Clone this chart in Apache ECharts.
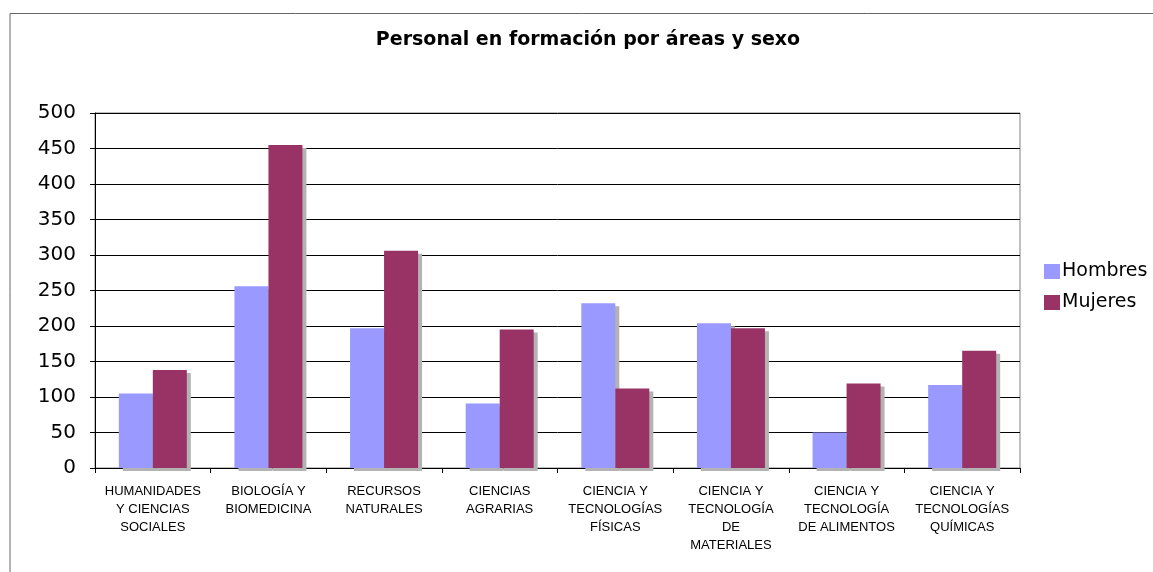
<!DOCTYPE html>
<html>
<head>
<meta charset="utf-8">
<script src="https://cdn.jsdelivr.net/npm/echarts@6/dist/echarts.min.js"></script>
<style>
  html, body { margin: 0; padding: 0; background: #fff; }
  #chart { width: 1153px; height: 572px; }
</style>
</head>
<body>
<div id="chart"></div>
<script>
var areas = [
  "HUMANIDADES\nY CIENCIAS\nSOCIALES",
  "BIOLOGÍA Y\nBIOMEDICINA",
  "RECURSOS\nNATURALES",
  "CIENCIAS\nAGRARIAS",
  "CIENCIA Y\nTECNOLOGÍAS\nFÍSICAS",
  "CIENCIA Y\nTECNOLOGÍA\nDE\nMATERIALES",
  "CIENCIA Y\nTECNOLOGÍA\nDE ALIMENTOS",
  "CIENCIA Y\nTECNOLOGÍAS\nQUÍMICAS"
];
var hombres = [105, 256, 197, 91, 232, 204, 50, 117];
var mujeres = [138, 455, 306, 195, 112, 197, 119, 165];

var myChart = echarts.init(document.getElementById("chart"));

var barShadow = {
  shadowColor: "#b3b3b3",
  shadowBlur: 0,
  shadowOffsetX: 4,
  shadowOffsetY: 3
};

var option = {
  animation: false,
  backgroundColor: "#fff",
  textStyle: { fontFamily: "Liberation Sans, Arial, sans-serif" },
  title: {
    text: "Personal en formación por áreas y sexo",
    left: 583,
    top: 26,
    textAlign: "center",
    textStyle: {
      fontSize: 19,
      fontWeight: "bold",
      color: "#000",
      fontFamily: "DejaVu Sans, sans-serif"
    }
  },
  graphic: [
    {
      type: "polyline",
      shape: { points: [[10, 572], [10, 13.5], [1153, 13.5]] },
      style: { stroke: "#666", lineWidth: 1, fill: null }
    }
  ],
  legend: {
    orient: "vertical",
    left: 1039,
    top: 257,
    itemWidth: 16,
    itemHeight: 15,
    itemGap: 12,
    icon: "rect",
    textStyle: { fontSize: 19, color: "#000", fontFamily: "DejaVu Sans, sans-serif", padding: [0, 0, 0, -3] },
    data: ["Hombres", "Mujeres"]
  },
  grid: {
    left: 95,
    right: 133,
    top: 113,
    bottom: 104,
    show: true,
    borderColor: "#808080",
    borderWidth: 1
  },
  xAxis: {
    type: "category",
    data: areas,
    axisLine: { lineStyle: { color: "#000" } },
    axisTick: { show: true, length: 5, alignWithLabel: false, lineStyle: { color: "#000" } },
    axisLabel: {
      interval: 0,
      fontSize: 13,
      lineHeight: 18,
      color: "#000",
      margin: 14
    }
  },
  yAxis: {
    type: "value",
    min: 0,
    max: 500,
    interval: 50,
    axisLine: { show: true, lineStyle: { color: "#000" } },
    axisTick: { show: true, length: 5, lineStyle: { color: "#000" } },
    axisLabel: { fontSize: 20, color: "#000", margin: 19, fontFamily: "DejaVu Sans, sans-serif" },
    splitLine: { lineStyle: { color: "#000", width: 1 } }
  },
  series: [
    {
      name: "Hombres",
      type: "bar",
      data: hombres,
      barWidth: 34,
      barGap: "0%",
      itemStyle: Object.assign({ color: "#9999FF" }, barShadow)
    },
    {
      name: "Mujeres",
      type: "bar",
      data: mujeres,
      barWidth: 34,
      barGap: "0%",
      itemStyle: Object.assign({ color: "#993366" }, barShadow)
    }
  ]
};

myChart.setOption(option);
</script>
</body>
</html>
